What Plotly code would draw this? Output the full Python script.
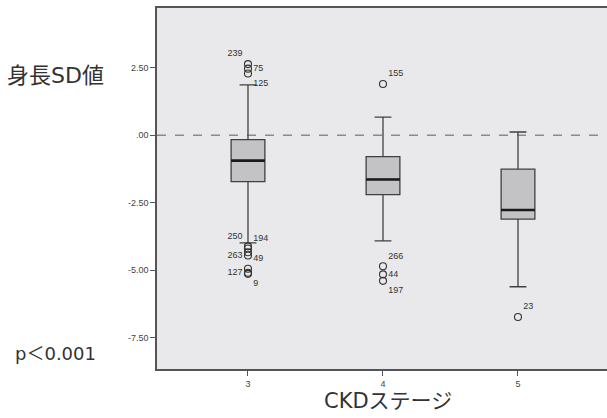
import plotly.graph_objects as go

stages = [3, 4, 5]
upper_whisker = [1.87, 0.67, 0.12]
q3_vals = [-0.16, -0.79, -1.26]
median_vals = [-0.94, -1.64, -2.77]
q1_vals = [-1.72, -2.20, -3.11]
lower_whisker = [-3.99, -3.92, -5.62]

out_stage = [3, 3, 3, 3, 3, 3, 3, 3, 3, 3, 4, 4, 4, 4, 5]
out_value = [2.64, 2.47, 2.29, -4.12, -4.20, -4.34, -4.46, -4.95, -5.10, -5.14, 1.90, -4.86, -5.16, -5.40, -6.74]
out_label = ["239", "75", "125", "250", "194", "", "263", "49", "127", "9", "155", "266", "44", "197", "23"]
out_textpos = ["top left", "middle right", "bottom right", "top left", "top right", "middle left", "middle left",
               "top right", "middle left", "bottom right", "top right", "top right", "middle right", "bottom right", "top right"]

y_tickvals = [2.5, 0, -2.5, -5, -7.5]
y_ticktext = ["2.50", ".00", "-2.50", "-5.00", "-7.50"]

box_w = 0.25

# the chart frame continues past the right edge of the 607px picture
FIG_W = 640
PLOT_W = FIG_W - 157


def px_to_paper(px):
    return (px - 157) / PLOT_W


fig = go.Figure()
fig.add_trace(go.Box(
    x=stages, q1=q1_vals, median=median_vals, q3=q3_vals,
    lowerfence=lower_whisker, upperfence=upper_whisker,
    orientation="v", width=box_w, whiskerwidth=0.5, boxpoints=False,
    fillcolor="#c3c3c5", line=dict(color="#404040", width=1.3),
    hoverinfo="skip", showlegend=False,
))
# thicker median lines
mx, my = [], []
for s, m in zip(stages, median_vals):
    mx += [s - box_w / 2, s + box_w / 2, None]
    my += [m, m, None]
fig.add_trace(go.Scatter(x=mx, y=my, mode="lines", line=dict(color="#1a1a1a", width=2.6),
                         showlegend=False, hoverinfo="skip"))
fig.add_trace(go.Scatter(
    x=out_stage, y=out_value, mode="markers+text",
    marker=dict(symbol="circle-open", size=7, color="#333333", line=dict(width=1.1)),
    text=out_label, textposition=out_textpos,
    textfont=dict(family="Liberation Sans, Arial", size=9, color="#333333"),
    showlegend=False, hoverinfo="skip",
))

fig.add_shape(type="line", xref="paper", x0=0, x1=1, yref="y", y0=0, y1=0,
              line=dict(color="#8a8a8a", width=1.4, dash="dash"), layer="below")

fig.update_layout(
    width=FIG_W, height=418,
    margin=dict(l=157, r=0, t=8, b=49, autoexpand=False),
    paper_bgcolor="white", plot_bgcolor="#e9e9eb",
    font=dict(family="Liberation Sans, Arial", color="#333333"),
    xaxis=dict(range=[2.326, 2.326 + PLOT_W / 135.0], tickvals=stages, ticktext=[str(s) for s in stages],
               showgrid=False, zeroline=False, showline=True, mirror=True,
               linecolor="#555555", linewidth=1.5,
               ticks="outside", ticklen=5,
               tickcolor="#555555", tickfont=dict(size=9, color="#444444")),
    yaxis=dict(range=[-8.67, 4.72], tickvals=y_tickvals, ticktext=y_ticktext,
               showgrid=False, zeroline=False, showline=True, mirror=False,
               linecolor="#555555", linewidth=1.5,
               ticks="outside", ticklen=5,
               tickcolor="#555555", tickfont=dict(size=9, color="#444444")),
    annotations=[
        dict(text="身長SD値", xref="paper", yref="paper", x=px_to_paper(55), y=0.814,
             xanchor="center", yanchor="middle", showarrow=False,
             font=dict(family="DejaVu Sans, Noto Sans CJK JP", size=22, color="#333333")),
        dict(text="p＜0.001", xref="paper", yref="paper", x=px_to_paper(55), y=0.042,
             xanchor="center", yanchor="middle", showarrow=False,
             font=dict(family="DejaVu Sans, Noto Sans CJK JP", size=18, color="#333333")),
        dict(text="CKDステージ", xref="paper", yref="paper", x=px_to_paper(388), y=-0.089,
             xanchor="center", yanchor="middle", showarrow=False,
             font=dict(family="DejaVu Sans, Noto Sans CJK JP", size=21, color="#333333")),
    ],
)

fig.write_html("out.html", config={"displayModeBar": False},
               post_script=("document.body.style.margin='0';document.body.style.padding='0';"
                            "document.body.style.overflow='hidden';"
                            "document.documentElement.style.overflow='hidden';"))
